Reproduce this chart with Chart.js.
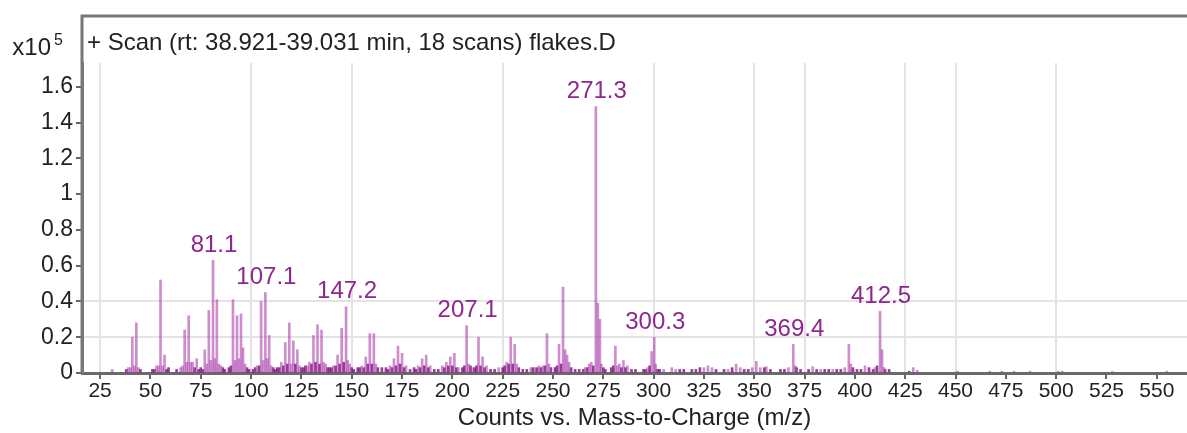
<!DOCTYPE html>
<html>
<head>
<meta charset="utf-8">
<script src="https://cdn.jsdelivr.net/npm/chart.js@4"></script>
<style>
  html, body { margin: 0; padding: 0; background: #fff; }
  #wrap { width: 1187px; height: 433px; }
</style>
</head>
<body>
<div id="wrap"><canvas id="spectrum" width="1187" height="433"></canvas></div>
<script>
// m/z of each ion and its abundance (x10^5 counts)
const mz = [
  31, 39, 40, 41, 42, 43, 44,
  53, 54, 55, 56, 57,
  65, 66, 67, 68, 69, 70, 71, 73,
  77, 78, 79, 80, 81.1, 82, 83, 84, 85,
  91, 92, 93, 94, 95, 96, 97,
  103, 105, 106, 107.1, 108, 109, 110,
  115, 117, 119, 120, 121, 123, 124,
  128, 129, 131, 133, 135, 136, 137,
  141, 143, 145, 147.2, 148, 149,
  155, 157, 159, 161, 162,
  169, 171, 173, 175, 177,
  183, 185, 187, 189,
  195, 197, 199, 201, 203,
  207.1, 208, 210, 213, 215, 217,
  223, 227, 229, 231, 232,
  239, 241, 243, 245, 247, 248,
  253, 255, 256, 257, 258,
  266, 268, 269, 271.3, 272.3, 273.3, 274,
  281, 282, 283, 285, 287,
  297, 299, 300.3, 301,
  305, 309, 311, 325, 327, 329, 337, 341, 343, 349, 351, 353, 356,
  367, 369.4, 370.4, 379, 383, 389, 395, 397, 398, 405, 410, 412.5, 413.5, 414.5,
  429, 431, 451, 467, 473, 479, 487, 501, 503, 528, 555
];
const counts = [
  0.02, 0.03, 0.03, 0.20, 0.04, 0.28, 0.03,
  0.04, 0.04, 0.52, 0.04, 0.10,
  0.03, 0.04, 0.24, 0.06, 0.32, 0.06, 0.06, 0.08,
  0.13, 0.05, 0.35, 0.07, 0.63, 0.08, 0.41, 0.05, 0.04,
  0.41, 0.07, 0.32, 0.08, 0.33, 0.14, 0.05,
  0.04, 0.40, 0.07, 0.45, 0.08, 0.21, 0.04,
  0.06, 0.17, 0.28, 0.05, 0.18, 0.13, 0.04,
  0.04, 0.06, 0.21, 0.27, 0.24, 0.06, 0.05,
  0.04, 0.10, 0.25, 0.37, 0.07, 0.05,
  0.04, 0.09, 0.22, 0.22, 0.05,
  0.04, 0.08, 0.15, 0.11, 0.04,
  0.04, 0.08, 0.10, 0.04,
  0.04, 0.06, 0.09, 0.11, 0.03,
  0.265, 0.05, 0.03, 0.20, 0.09, 0.04,
  0.03, 0.06, 0.20, 0.16, 0.05,
  0.03, 0.03, 0.04, 0.04, 0.22, 0.05,
  0.16, 0.48, 0.13, 0.10, 0.06,
  0.03, 0.05, 0.06, 1.49, 0.39, 0.30, 0.05,
  0.15, 0.04, 0.05, 0.07, 0.04,
  0.03, 0.12, 0.20, 0.05,
  0.02, 0.03, 0.02, 0.03, 0.04, 0.03, 0.02, 0.05, 0.03, 0.03, 0.065, 0.03, 0.035,
  0.03, 0.16, 0.04, 0.035, 0.02, 0.02, 0.03, 0.16, 0.05, 0.04, 0.03, 0.345, 0.13, 0.03,
  0.03, 0.015, 0.01, 0.01, 0.01, 0.01, 0.01, 0.01, 0.01, 0.008, 0.01
];

// low-level ions along the baseline
const minorMz = [
  38, 45, 51, 52, 58, 59, 63, 72, 74, 75, 76, 86, 87, 89, 90, 98, 99, 101, 102, 104,
  111, 112, 113, 114, 116, 118, 122, 125, 126, 127, 130, 132, 134, 138, 139, 140,
  142, 144, 146, 150, 151, 153, 154, 156, 158, 160, 163, 165, 167, 168, 170, 172,
  174, 176, 179, 181, 182, 184, 186, 188, 191, 193, 196, 198, 200, 202, 205, 206,
  209, 211, 212, 214, 216, 219, 221, 225, 226, 228, 230, 233, 235, 237, 240, 242,
  244, 246, 249, 251, 252, 254, 259, 261, 263, 265, 267, 270, 275, 276, 279, 280,
  284, 286, 289, 291, 295, 296, 298, 302, 303, 313, 315, 319, 321, 323, 331, 335,
  339, 345, 347, 355, 358, 363, 365, 371, 373, 377, 381, 385, 387, 391, 393, 399,
  401, 403, 407, 409, 411, 415, 417, 427
];
const minorCounts = [
  0.02, 0.02, 0.02, 0.02, 0.02, 0.03, 0.02, 0.03, 0.02, 0.03, 0.02, 0.03, 0.02, 0.03, 0.04, 0.03, 0.02, 0.02, 0.03, 0.04,
  0.03, 0.02, 0.03, 0.03, 0.04, 0.05, 0.05, 0.03, 0.03, 0.04, 0.05, 0.06, 0.05, 0.03, 0.03, 0.03,
  0.04, 0.05, 0.06, 0.03, 0.02, 0.03, 0.03, 0.03, 0.05, 0.05, 0.03, 0.03, 0.03, 0.02, 0.03, 0.04,
  0.05, 0.03, 0.02, 0.03, 0.02, 0.03, 0.04, 0.03, 0.02, 0.02, 0.03, 0.04, 0.04, 0.03, 0.03, 0.04,
  0.04, 0.03, 0.04, 0.04, 0.03, 0.02, 0.02, 0.03, 0.04, 0.05, 0.05, 0.03, 0.02, 0.02, 0.03, 0.03,
  0.03, 0.04, 0.03, 0.03, 0.04, 0.05, 0.03, 0.02, 0.02, 0.02, 0.03, 0.04, 0.03, 0.02, 0.03, 0.04,
  0.03, 0.03, 0.02, 0.02, 0.02, 0.02, 0.04, 0.02, 0.02, 0.02, 0.02, 0.02, 0.02, 0.03, 0.02, 0.02,
  0.03, 0.02, 0.02, 0.03, 0.02, 0.02, 0.02, 0.03, 0.02, 0.02, 0.02, 0.02, 0.02, 0.02, 0.02, 0.03,
  0.02, 0.02, 0.03, 0.02, 0.04, 0.02, 0.02, 0.01
];

// peaks that get their m/z written above them
const labelledPeaks = [81.1, 107.1, 147.2, 207.1, 271.3, 300.3, 369.4, 412.5];

const xTicks = [25, 50, 75, 100, 125, 150, 175, 200, 225, 250, 275, 300, 325,
  350, 375, 400, 425, 450, 475, 500, 525, 550];
const yTicks = [0, 0.2, 0.4, 0.6, 0.8, 1, 1.2, 1.4, 1.6];
const xGrid = [25, 100, 150, 225, 300, 350, 375, 425, 450, 500];
const yGrid = [0.2, 0.4];

const titleText = '+ Scan (rt: 38.921-39.031 min, 18 scans) flakes.D';
const FONT = '"Liberation Sans", Arial, sans-serif';
const PURPLE = 'rgb(142, 38, 142)';

const toPoints = (xs, ys) => xs.map((m, i) => ({ x: m, y: ys[i] }));

// frame, title and the x10^5 multiplier
const framePlugin = {
  id: 'frame',
  afterDraw(chart) {
    const c = chart.ctx;
    const area = chart.chartArea;
    c.save();
    c.strokeStyle = '#777';
    c.lineWidth = 3;
    c.beginPath();
    c.moveTo(area.left, area.bottom);
    c.lineTo(area.left, 16);
    c.lineTo(chart.width, 16);
    c.stroke();

    c.fillStyle = '#222';
    c.textBaseline = 'middle';
    c.textAlign = 'left';
    c.font = '24px ' + FONT;
    c.fillText(titleText, 87, 43);
    c.textAlign = 'right';
    c.fillText('x10', 51, 48);
    c.font = '16px ' + FONT;
    c.textAlign = 'left';
    c.fillText('5', 54, 41);
    c.restore();
  }
};

// m/z labels over the main peaks
const peakLabelPlugin = {
  id: 'peakLabels',
  afterDatasetsDraw(chart) {
    const c = chart.ctx;
    const xs = chart.scales.x, ys = chart.scales.y;
    c.save();
    c.fillStyle = PURPLE;
    c.font = '24px ' + FONT;
    c.textAlign = 'center';
    c.textBaseline = 'middle';
    labelledPeaks.forEach(m => {
      const v = counts[mz.indexOf(m)];
      c.fillText(m.toFixed(1), xs.getPixelForValue(m) + 1, ys.getPixelForValue(v) - 15);
    });
    c.restore();
  }
};

new Chart(document.getElementById('spectrum'), {
  type: 'bar',
  data: {
    datasets: [{
      data: toPoints(mz, counts),
      backgroundColor: 'rgba(165, 50, 165, 0.55)',
      barThickness: 2,
      grouped: false
    }, {
      data: toPoints(minorMz, minorCounts),
      backgroundColor: 'rgba(125, 15, 125, 0.8)',
      barThickness: 2,
      grouped: false
    }]
  },
  options: {
    responsive: false,
    animation: false,
    layout: { padding: { top: 63, right: 0, left: 0, bottom: 0 } },
    plugins: {
      legend: { display: false },
      tooltip: { enabled: false }
    },
    scales: {
      x: {
        type: 'linear',
        offset: false,
        min: 16,
        max: 565,
        afterBuildTicks: s => { s.ticks = xTicks.map(v => ({ value: v })); },
        afterFit: s => { s.height = 60; },
        ticks: {
          color: '#222',
          font: { family: FONT, size: 21 },
          padding: 0,
          maxRotation: 0,
          autoSkip: false,
          callback: v => String(v)
        },
        grid: {
          offset: false,
          color: ctx => xGrid.includes(ctx.tick && ctx.tick.value) ? '#e4e4e4' : 'rgba(0,0,0,0)',
          lineWidth: 2,
          tickColor: '#666',
          tickLength: 6,
          tickWidth: 2
        },
        border: { color: '#6a6a6a', width: 3 },
        title: {
          display: true,
          text: 'Counts vs. Mass-to-Charge (m/z)',
          color: '#222',
          font: { family: FONT, size: 24 },
          padding: { top: 0, bottom: 0 }
        }
      },
      y: {
        min: 0,
        max: 1.733,
        afterBuildTicks: s => { s.ticks = yTicks.map(v => ({ value: v })); },
        afterFit: s => { s.width = 82; },
        ticks: {
          color: '#222',
          font: { family: FONT, size: 23 },
          padding: 3,
          callback: v => String(v)
        },
        grid: {
          color: ctx => yGrid.includes(ctx.tick && ctx.tick.value) ? '#e4e4e4' : 'rgba(0,0,0,0)',
          lineWidth: 2,
          tickColor: '#666',
          tickLength: 6,
          tickWidth: 2
        },
        border: { color: '#777', width: 3 }
      }
    }
  },
  plugins: [framePlugin, peakLabelPlugin]
});
</script>
</body>
</html>
